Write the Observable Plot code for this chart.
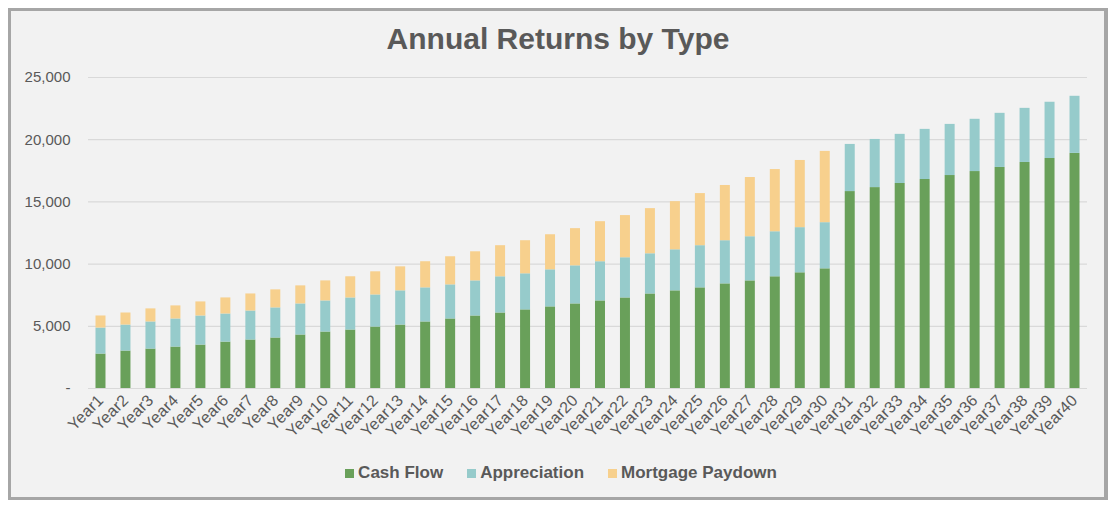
<!DOCTYPE html>
<html>
<head>
<meta charset="utf-8">
<script src="https://cdn.jsdelivr.net/npm/d3@7"></script>
<script src="https://cdn.jsdelivr.net/npm/@observablehq/plot@0.6"></script>
<style>
  html, body { margin: 0; padding: 0; background: #ffffff; }
  body { width: 1116px; height: 508px; position: relative; overflow: hidden; font-family: "Liberation Sans", Arial, sans-serif; }
  #frame { position: absolute; left: 8px; top: 8px; width: 1100px; height: 492px; box-sizing: border-box;
           border: 3px solid #a6a6a6; border-right-width: 4px; background: #f2f2f2; }
  #title { position: absolute; left: 0; top: 19px; width: 1116px; text-align: center; font-size: 30px; font-weight: bold; color: #595959; line-height: 40px; }
  #chart { position: absolute; left: 0; top: 60px; }
  #legend { position: absolute; left: 3px; top: 462px; width: 1116px; display: flex; justify-content: center; align-items: center; gap: 24px;
            font-size: 17px; font-weight: bold; color: #595959; line-height: 22px; }
  .item { display: flex; align-items: center; gap: 4px; }
  .sw { width: 9px; height: 9px; display: inline-block; }
  .xax text { letter-spacing: 0.3px; }
</style>
</head>
<body>
<div id="frame"></div>
<div id="title">Annual Returns by Type</div>
<div id="chart"></div>
<div id="legend"></div>
<script>
const years = Array.from({length: 40}, (_, i) => "Year" + (i + 1));
const types = ["Cash Flow", "Appreciation", "Mortgage Paydown"];
const colors = ["#69a05a", "#96cbcb", "#f7d08d"];
const cashFlow = [2770, 3010, 3170, 3330, 3490, 3730, 3900, 4060, 4300, 4540,
                  4700, 4940, 5100, 5350, 5590, 5830, 6070, 6320, 6560, 6800,
                  7040, 7280, 7600, 7850, 8090, 8410, 8650, 8980, 9300, 9620,
                  15830, 16150, 16480, 16800, 17120, 17440, 17770, 18170, 18490, 18900];
const appreciation = [2090, 2090, 2180, 2260, 2340, 2260, 2330, 2420, 2500, 2500,
                      2580, 2580, 2750, 2740, 2740, 2820, 2910, 2900, 2980, 3060,
                      3150, 3230, 3230, 3300, 3390, 3470, 3550, 3620, 3630, 3710,
                      3790, 3870, 3950, 4030, 4110, 4200, 4350, 4350, 4520, 4590];
const mortgagePaydown = [970, 970, 1050, 1050, 1130, 1290, 1370, 1450, 1450, 1610,
                         1700, 1860, 1930, 2100, 2260, 2340, 2500, 2660, 2820, 2990,
                         3220, 3390, 3630, 3870, 4190, 4440, 4760, 5000, 5400, 5730,
                         0, 0, 0, 0, 0, 0, 0, 0, 0, 0];
const yTicks = [0, 5000, 10000, 15000, 20000, 25000];

const series = [cashFlow, appreciation, mortgagePaydown];
const data = [];
years.forEach((yr, i) => {
  types.forEach((t, k) => data.push({year: yr, type: t, value: series[k][i]}));
});

const fmt = d3.format(",");
const chart = Plot.plot({
  width: 1116,
  height: 395,
  marginLeft: 88,
  marginRight: 29,
  marginTop: 17,
  marginBottom: 67,
  style: {background: "transparent", fontFamily: "'Liberation Sans', Arial, sans-serif", color: "#595959", overflow: "visible"},
  x: {domain: years, paddingInner: 0.6, paddingOuter: 0.3},
  y: {domain: [0, 25000]},
  color: {domain: types, range: colors},
  marks: [
    Plot.ruleY(yTicks, {stroke: "#d9d9d9", strokeWidth: 1.2}),
    Plot.barY(data, Plot.stackY({order: types}, {x: "year", y: "value", fill: "type"})),
    Plot.axisY(yTicks, {tickSize: 0, tickPadding: 18, fontSize: 15, fill: "#595959",
      tickFormat: d => d === 0 ? "-" : fmt(d), label: null}),
    Plot.axisX({tickSize: 0, tickPadding: 9, tickRotate: -45, fontSize: 16, fill: "#595959", label: null, className: "xax"})
  ]
});
document.getElementById("chart").appendChild(chart);

const legend = document.getElementById("legend");
types.forEach((t, k) => {
  const it = document.createElement("div");
  it.className = "item";
  const sw = document.createElement("span");
  sw.className = "sw";
  sw.style.background = colors[k];
  const tx = document.createElement("span");
  tx.textContent = t;
  it.appendChild(sw);
  it.appendChild(tx);
  legend.appendChild(it);
});
</script>
</body>
</html>
